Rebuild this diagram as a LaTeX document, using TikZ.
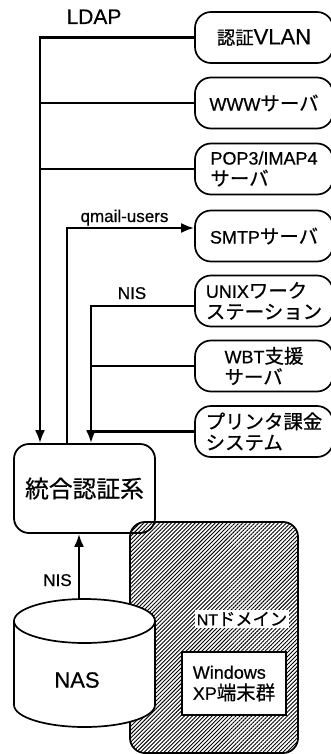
\documentclass[tikz,border=0pt]{standalone}
\usepackage{fontspec}
\setmainfont{Liberation Sans}[FakeBold=0.6]
\newfontfamily\jp[Scale=1.08,FakeBold=0.6]{Noto Sans CJK JP}
\usetikzlibrary{arrows.meta,patterns.meta}

\tikzset{
  server/.style={draw, line width=1.7pt, rounded corners=16pt, fill=white,
    minimum width=138pt, minimum height=51pt, align=left, inner sep=0pt,
    font=\fontsize{18}{21}\selectfont},
  conn/.style={line width=2.3pt},
  arr/.style={conn, -{Latex[length=13pt,width=10pt]}},
  lbl/.style={font=\fontsize{17}{20}\selectfont, inner sep=0pt, anchor=base},
}

\begin{document}
\begin{tikzpicture}[x=1pt,y=1pt]
\useasboundingbox (0,0) rectangle (331,-754);

% servers
\node[server] (vlan) at (264,-37.5) {{\jp\fontsize{17}{22}\selectfont 認証}{\fontsize{22}{24}\selectfont VLAN}};
\node[server] (www)  at (264,-103)  {WWW{\jp サーバ}};
\node[server] (pop)  at (264,-169)  {POP3/IMAP4\\{\jp サーバ}};
\node[server] (smtp) at (264,-236)  {SMTP{\jp サーバ}};
\node[server] (unix) at (264,-301)  {UNIX{\jp ワーク}\\{\jp ステーション}};
\node[server] (wbt)  at (264,-366)  {WBT{\jp 支援}\\{\jp サーバ}};
\node[server] (prn)  at (264,-431.5) {{\jp プリンタ課金}\\{\jp システム}};

% auth
\node[draw, line width=1.8pt, fill=white, rounded corners=15pt, minimum width=141pt,
      minimum height=89pt, font=\jp\fontsize{22}{24}\selectfont] (auth) at (84.5,-488.5) {統合認証系};

% NT domain
\node[draw, line width=1.8pt, pattern={Lines[angle=45,distance=2.8pt,line width=0.9pt]},
      rounded corners=15pt, minimum width=168pt, minimum height=231pt] (ntdom) at (214,-637.5) {};
\node[fill=white, inner sep=1.5pt, font=\fontsize{16}{18}\selectfont] (ntlbl) at (242,-619) {NT{\jp ドメイン}};
\node[draw, line width=1.4pt, fill=white, minimum width=104pt, minimum height=63pt,
      align=left, font=\fontsize{18}{21}\selectfont] (winxp) at (234,-683.5) {Windows\\XP{\jp 端末群}};

% NAS
\draw[line width=1.7pt, fill=white] (14,-621) -- (14,-705)
  arc[start angle=180, end angle=360, x radius=70.5, y radius=22] -- (155,-621)
  arc[start angle=0, end angle=180, x radius=70.5, y radius=22] -- cycle;
\draw[line width=1.7pt] (14,-621) arc[start angle=180, end angle=360, x radius=70.5, y radius=22];
\node[font=\fontsize{22}{24}\selectfont] (nas) at (77,-680) {NAS};
\coordinate (nastop) at (79,-599);

\coordinate (ldapx) at (40,0);
\coordinate (nisx) at (91,0);

% links
\draw[arr] (vlan.west) -| ([xshift=-44.5pt]auth.north);
\draw[conn] (www.west) -- (www.west -| ldapx);
\draw[conn] (pop.west) -- (pop.west -| ldapx);
\draw[arr] ([xshift=-17.5pt]auth.north) |- ([yshift=8pt]smtp.west);
\draw[arr] ([yshift=-5pt]unix.west) -| ([xshift=6.5pt]auth.north);
\draw[conn] (wbt.west) -- (wbt.west -| nisx);
\draw[conn] (prn.west) -- (prn.west -| nisx);
\draw[arr] (nastop) -- (nastop |- auth.south);

% labels
\node[lbl, font=\fontsize{21}{24}\selectfont] (ldap) at (94,-24) {LDAP};
\node[lbl] (qmail) at (124.5,-222) {qmail-users};
\node[lbl] (nisup) at (132,-299) {NIS};
\node[lbl] (nisdn) at (57.5,-586) {NIS};
\end{tikzpicture}
\end{document}
